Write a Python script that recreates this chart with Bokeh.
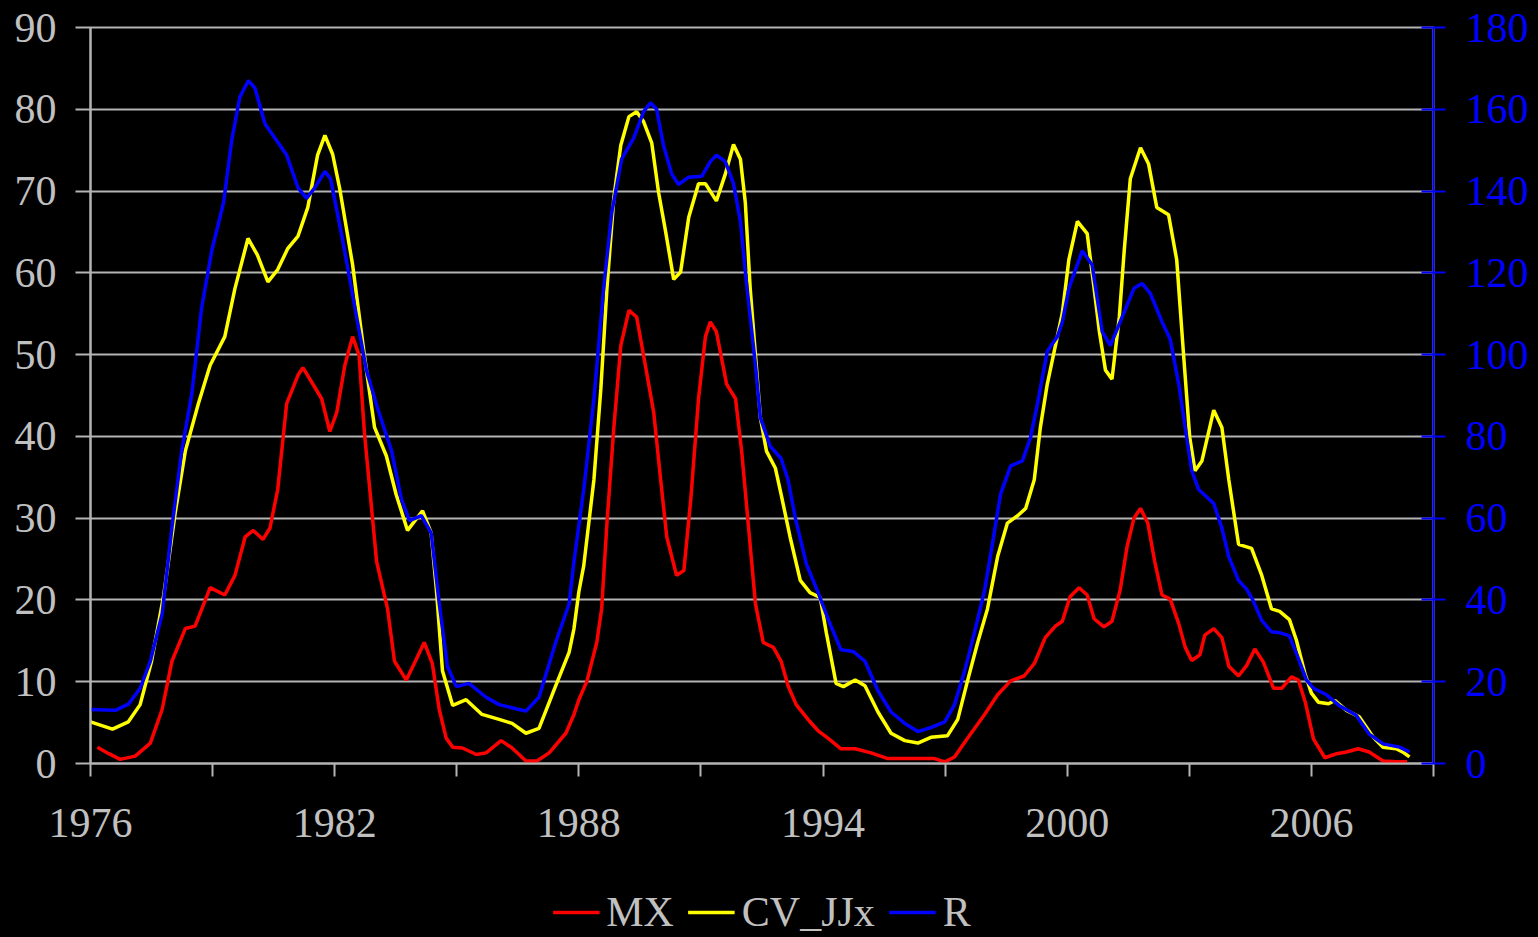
from bokeh.plotting import figure
from bokeh.models import (Range1d, LinearAxis, FixedTicker, Legend, LegendItem)
from bokeh.layouts import column
from bokeh.embed import file_html
from bokeh.resources import INLINE

# ---------------- data ----------------
mx_years = [1976.17, 1976.45, 1976.73, 1977.1, 1977.47, 1977.76, 1978.0, 1978.33, 1978.57, 1978.94,
            1979.3, 1979.55, 1979.8, 1980.0, 1980.24, 1980.41, 1980.6, 1980.82, 1981.1, 1981.22,
            1981.5, 1981.68, 1981.88, 1982.05, 1982.25, 1982.44, 1982.6, 1982.73, 1982.93, 1983.03,
            1983.3, 1983.47, 1983.76, 1984.0, 1984.2, 1984.4, 1984.57, 1984.74, 1984.9, 1985.14,
            1985.48, 1985.72, 1986.09, 1986.36, 1986.7, 1986.97, 1987.27, 1987.68, 1987.88, 1988.0,
            1988.2, 1988.44, 1988.56, 1988.69, 1988.86, 1989.03, 1989.23, 1989.42, 1989.59, 1989.84,
            1990.01, 1990.16, 1990.4, 1990.58, 1990.75, 1990.94, 1991.11, 1991.23, 1991.38, 1991.63,
            1991.85, 1992.0, 1992.16, 1992.34, 1992.53, 1992.78, 1992.97, 1993.14, 1993.34, 1993.68,
            1993.88, 1994.12, 1994.44, 1994.79, 1995.18, 1995.59, 1996.16, 1996.74, 1996.99, 1997.23,
            1997.55, 1997.97, 1998.29, 1998.61, 1998.94, 1999.19, 1999.46, 1999.71, 1999.88, 2000.07,
            2000.29, 2000.49, 2000.66, 2000.9, 2001.1, 2001.3, 2001.47, 2001.64, 2001.8, 2001.98,
            2002.15, 2002.33, 2002.53, 2002.74, 2002.9, 2003.06, 2003.26, 2003.38, 2003.6, 2003.8,
            2003.97, 2004.21, 2004.41, 2004.61, 2004.82, 2005.07, 2005.27, 2005.51, 2005.68, 2005.86,
            2006.05, 2006.33, 2006.62, 2006.86, 2007.15, 2007.42, 2007.76, 2008.08, 2008.35]
mx_values = [2.0, 1.2, 0.5, 0.9, 2.5, 6.6, 12.5, 16.5, 16.8, 21.5,
             20.6, 23.0, 27.7, 28.5, 27.4, 28.8, 33.5, 44.0, 47.5, 48.4,
             46.1, 44.6, 40.6, 42.9, 48.7, 52.2, 49.9, 40.5, 30.0, 24.7,
             18.9, 12.5, 10.2, 12.7, 14.8, 12.2, 6.6, 3.1, 2.0, 1.9,
             1.1, 1.3, 2.8, 1.9, 0.3, 0.3, 1.3, 3.7, 6.0, 7.8,
             10.1, 14.8, 18.9, 29.4, 41.1, 51.1, 55.4, 54.6, 49.9, 42.9,
             34.7, 27.7, 23.0, 23.6, 32.3, 44.6, 52.2, 54.0, 52.8, 46.4,
             44.6, 38.2, 29.4, 19.5, 14.8, 14.2, 12.5, 9.5, 7.2, 5.1,
             4.0, 3.1, 1.8, 1.8, 1.3, 0.6, 0.6, 0.6, 0.2, 0.8,
             3.1, 6.0, 8.4, 10.1, 10.7, 12.2, 15.4, 16.8, 17.4, 20.4,
             21.5, 20.6, 17.7, 16.7, 17.4, 21.2, 26.5, 30.0, 31.2, 29.4,
             24.7, 20.6, 20.1, 17.1, 14.2, 12.6, 13.3, 15.7, 16.5, 15.4,
             11.9, 10.7, 12.0, 14.0, 12.4, 9.2, 9.2, 10.6, 10.2, 7.3,
             3.0, 0.7, 1.2, 1.4, 1.8, 1.4, 0.3, 0.2, 0.2]

cv_years = [1976.0, 1976.54, 1976.93, 1977.22, 1977.5, 1977.8, 1978.08, 1978.33, 1978.65, 1978.94,
            1979.3, 1979.55, 1979.87, 1980.1, 1980.36, 1980.6, 1980.85, 1981.1, 1981.34, 1981.58,
            1981.76, 1981.95, 1982.12, 1982.44, 1982.73, 1982.98, 1983.27, 1983.51, 1983.79, 1984.16,
            1984.37, 1984.5, 1984.65, 1984.9, 1985.23, 1985.62, 1986.04, 1986.36, 1986.7, 1987.02,
            1987.43, 1987.76, 1987.88, 1988.0, 1988.12, 1988.37, 1988.54, 1988.69, 1988.86, 1989.03,
            1989.23, 1989.42, 1989.59, 1989.79, 1989.96, 1990.13, 1990.33, 1990.5, 1990.7, 1990.94,
            1991.11, 1991.38, 1991.6, 1991.8, 1991.97, 1992.09, 1992.21, 1992.34, 1992.46, 1992.61,
            1992.83, 1992.97, 1993.19, 1993.44, 1993.68, 1993.93, 1994.08, 1994.32, 1994.5, 1994.79,
            1995.03, 1995.35, 1995.67, 1996.01, 1996.33, 1996.65, 1997.06, 1997.31, 1997.55, 1997.8,
            1998.04, 1998.29, 1998.53, 1998.78, 1998.98, 1999.19, 1999.34, 1999.51, 1999.71, 1999.88,
            2000.04, 2000.25, 2000.49, 2000.66, 2000.79, 2000.94, 2001.1, 2001.28, 2001.4, 2001.55,
            2001.8, 2002.0, 2002.2, 2002.49, 2002.69, 2002.86, 2003.01, 2003.14, 2003.31, 2003.6,
            2003.8, 2003.97, 2004.21, 2004.53, 2004.78, 2005.02, 2005.22, 2005.46, 2005.63, 2005.84,
            2006.0, 2006.17, 2006.42, 2006.58, 2006.86, 2007.18, 2007.52, 2007.76, 2008.08, 2008.25,
            2008.41]
cv_values = [5.1, 4.2, 5.1, 7.2, 12.5, 20.6, 30.6, 38.2, 44.0, 48.7,
             52.2, 58.1, 64.2, 62.2, 58.9, 60.4, 63.0, 64.5, 68.0, 74.4,
             76.8, 74.5, 70.4, 61.0, 49.9, 41.1, 37.6, 32.9, 28.5, 30.9,
             28.2, 21.2, 11.3, 7.1, 7.8, 6.0, 5.4, 4.9, 3.7, 4.3,
             9.5, 13.6, 16.5, 21.0, 24.2, 34.7, 45.8, 58.1, 69.2, 75.6,
             79.1, 79.7, 78.5, 75.9, 69.8, 65.1, 59.2, 60.1, 66.8, 70.9,
             70.9, 68.8, 72.1, 75.7, 73.9, 68.6, 58.1, 49.9, 42.3, 38.2,
             36.1, 32.9, 27.7, 22.4, 20.9, 20.3, 16.0, 9.8, 9.4, 10.2,
             9.5, 6.3, 3.7, 2.8, 2.5, 3.2, 3.4, 5.4, 10.1, 14.8,
             18.9, 25.3, 29.4, 30.3, 31.2, 34.7, 41.1, 46.4, 51.1, 55.1,
             61.6, 66.3, 64.8, 58.1, 52.8, 48.1, 47.0, 54.6, 62.7, 71.5,
             75.3, 73.3, 68.0, 67.1, 61.6, 49.9, 39.9, 35.8, 37.0, 43.2,
             41.1, 34.7, 26.8, 26.3, 23.0, 18.9, 18.6, 17.6, 15.1, 11.0,
             8.6, 7.5, 7.3, 7.7, 6.5, 5.7, 3.2, 2.0, 1.8, 1.4,
             0.8]

r_years = [1976.0, 1976.61, 1976.94, 1977.22, 1977.47, 1977.76, 1978.0, 1978.24, 1978.49, 1978.73,
           1978.98, 1979.27, 1979.47, 1979.67, 1979.88, 1980.04, 1980.29, 1980.53, 1980.82, 1981.1,
           1981.31, 1981.51, 1981.76, 1981.9, 1982.2, 1982.54, 1982.78, 1983.05, 1983.4, 1983.64,
           1983.84, 1984.13, 1984.37, 1984.57, 1984.77, 1984.99, 1985.3, 1985.72, 1986.04, 1986.45,
           1986.7, 1987.02, 1987.43, 1987.76, 1987.88, 1988.12, 1988.37, 1988.61, 1988.81, 1989.05,
           1989.35, 1989.59, 1989.76, 1989.91, 1990.08, 1990.28, 1990.45, 1990.7, 1991.02, 1991.23,
           1991.38, 1991.6, 1991.8, 1991.97, 1992.11, 1992.34, 1992.46, 1992.7, 1992.97, 1993.14,
           1993.32, 1993.59, 1993.88, 1994.12, 1994.44, 1994.74, 1995.03, 1995.35, 1995.67, 1996.01,
           1996.33, 1996.65, 1996.99, 1997.23, 1997.48, 1997.72, 1997.97, 1998.17, 1998.36, 1998.61,
           1998.9, 1999.1, 1999.27, 1999.51, 1999.76, 1999.88, 2000.04, 2000.37, 2000.61, 2000.86,
           2001.06, 2001.35, 2001.64, 2001.84, 2002.04, 2002.33, 2002.53, 2002.74, 2002.9, 2003.06,
           2003.23, 2003.6, 2003.8, 2003.97, 2004.21, 2004.41, 2004.55, 2004.78, 2005.02, 2005.22,
           2005.46, 2005.63, 2005.88, 2006.05, 2006.37, 2006.68, 2007.1, 2007.42, 2007.76, 2008.17,
           2008.41]
r_values = [13.2, 13.0, 14.6, 18.4, 25.0, 36.6, 57.6, 76.4, 90.4, 111.4,
            125.4, 137.2, 152.4, 163.0, 167.0, 165.2, 156.4, 153.0, 148.8, 140.8,
            138.2, 140.8, 144.8, 143.0, 127.8, 109.2, 96.2, 87.0, 76.4, 64.6,
            59.4, 60.6, 56.4, 39.0, 23.8, 18.8, 19.6, 16.2, 14.4, 13.4,
            12.8, 16.2, 29.6, 39.0, 49.4, 67.0, 89.2, 116.2, 134.8, 147.8,
            153.0, 159.4, 161.6, 160.0, 151.2, 144.2, 141.6, 143.4, 143.6, 147.2,
            148.8, 147.2, 141.8, 132.6, 118.4, 97.4, 84.6, 77.6, 74.6, 69.4,
            60.0, 48.8, 41.8, 35.4, 27.8, 27.4, 25.0, 17.8, 12.6, 9.8,
            7.8, 8.8, 10.2, 14.4, 22.6, 32.0, 42.4, 54.2, 65.8, 72.8,
            74.0, 79.8, 88.0, 100.8, 104.4, 108.0, 116.2, 125.4, 122.0, 105.6,
            102.2, 109.2, 116.2, 117.4, 115.0, 108.0, 103.8, 92.8, 82.2, 71.6,
            67.0, 63.6, 57.6, 50.6, 44.8, 42.6, 40.2, 35.0, 32.2, 32.0,
            31.2, 27.0, 20.4, 18.4, 16.8, 14.2, 11.8, 7.2, 4.8, 4.0,
            2.8]

series_names = ["MX", "CV_JJx", "R"]
series_colors = ["#ff0000", "#ffff00", "#0000ff"]
series_x = [mx_years, cv_years, r_years]
series_y = [mx_values, cv_values, r_values]

x_ticks = list(range(1976, 2010, 3))
x_labels = {t: (str(t) if (t - 1976) % 6 == 0 else "") for t in x_ticks}
left_ticks = list(range(0, 91, 10))
right_ticks = list(range(0, 181, 20))

# ---------------- main figure ----------------
GREY = "#b4b4b4"
TXT = "#c0c0c0"
FONT = "Liberation Serif"
FS = "42px"

p = figure(width=1538, height=886, output_backend="svg", toolbar_location=None,
           x_range=Range1d(1976, 2009), y_range=Range1d(0, 90),
           min_border_left=90, min_border_right=105, min_border_top=27, min_border_bottom=123)
p.background_fill_color = "black"
p.border_fill_color = "black"
p.outline_line_color = GREY
p.outline_line_width = 2

p.extra_y_ranges = {"right": Range1d(0, 180)}

p.xgrid.visible = False
p.ygrid.grid_line_color = GREY
p.ygrid.grid_line_width = 2
p.ygrid.ticker = FixedTicker(ticks=left_ticks)

xa = p.xaxis[0]
xa.ticker = FixedTicker(ticks=x_ticks)
xa.major_label_overrides = x_labels
xa.axis_line_color = GREY
xa.axis_line_width = 2
xa.major_tick_line_color = GREY
xa.major_tick_line_width = 2
xa.major_tick_in = 0
xa.major_tick_out = 13
xa.minor_tick_line_color = None
xa.major_label_text_font = FONT
xa.major_label_text_font_size = FS
xa.major_label_text_color = TXT
xa.major_label_standoff = 32

ya = p.yaxis[0]
ya.ticker = FixedTicker(ticks=left_ticks)
ya.axis_line_color = GREY
ya.axis_line_width = 2
ya.major_tick_line_color = GREY
ya.major_tick_line_width = 2
ya.major_tick_in = 0
ya.major_tick_out = 15
ya.minor_tick_line_color = None
ya.major_label_text_font = FONT
ya.major_label_text_font_size = FS
ya.major_label_text_color = TXT
ya.major_label_standoff = 19

ra = LinearAxis(y_range_name="right", ticker=FixedTicker(ticks=right_ticks))
ra.axis_line_color = "#0000ff"
ra.axis_line_width = 2
ra.major_tick_line_color = "#0000ff"
ra.major_tick_line_width = 2
ra.major_tick_in = 12
ra.major_tick_out = 12
ra.minor_tick_line_color = None
ra.major_label_text_font = FONT
ra.major_label_text_font_size = FS
ra.major_label_text_color = "#0000ff"
ra.major_label_standoff = 20
p.add_layout(ra, "right")

p.line(mx_years, mx_values, line_color=series_colors[0], line_width=3.5)
p.line(cv_years, cv_values, line_color=series_colors[1], line_width=3.5)
p.line(r_years, r_values, line_color=series_colors[2], line_width=3.5, y_range_name="right")

# ---------------- legend strip ----------------
lg = figure(width=1538, height=51, output_backend="svg", toolbar_location=None,
            x_axis_type=None, y_axis_type=None, min_border=0, min_border_right=14,
            x_range=Range1d(0, 1), y_range=Range1d(0, 1))
lg.background_fill_color = "black"
lg.border_fill_color = "black"
lg.outline_line_color = None
lg.grid.visible = False
# the same series, drawn far outside this strip's ranges, only to give the legend its swatches
swatches = [lg.line(xs, ys, line_color=c, line_width=3.5)
            for xs, ys, c in zip(series_x, series_y, series_colors)]

legend = Legend(items=[LegendItem(label=n, renderers=[s]) for n, s in zip(series_names, swatches)],
                orientation="horizontal", location="center")
legend.label_text_font = FONT
legend.label_text_font_size = FS
legend.label_text_color = TXT
legend.background_fill_alpha = 0
legend.border_line_alpha = 0
legend.glyph_width = 47
legend.glyph_height = 20
legend.label_standoff = 7
legend.spacing = 14
legend.padding = 0
legend.margin = 0
lg.add_layout(legend, "center")

layout = column(p, lg, spacing=0)
layout.background = "black"

open("out.html", "w").write(file_html(layout, INLINE))
